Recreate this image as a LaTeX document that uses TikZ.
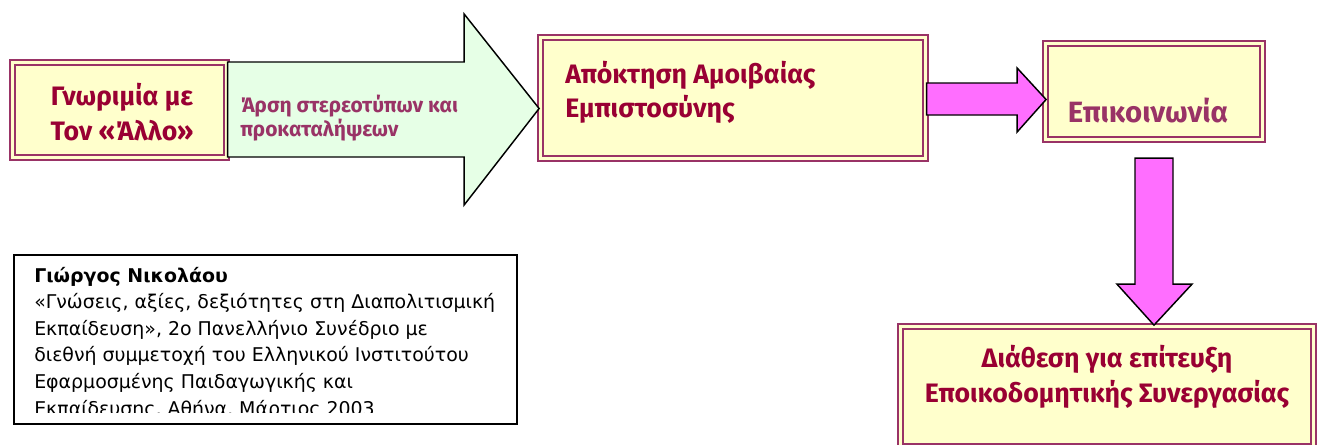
\documentclass[tikz,border=0pt]{standalone}
\usepackage{fontspec}
\setmainfont{Fira Sans}
\newfontfamily\citefont{DejaVu Sans}

\definecolor{frameC}{HTML}{993366}
\definecolor{paleY}{HTML}{FFFFCC}
\definecolor{wineC}{HTML}{990033}
\definecolor{plumC}{HTML}{993366}
\definecolor{mintC}{HTML}{E6FFE6}
\definecolor{pinkC}{HTML}{FF6EFF}

\begin{document}
\begin{tikzpicture}
  [x=0.75pt, y=-0.75pt,
   stageN/.style={draw=frameC, double=paleY, double distance=2pt, line width=1.6pt,
                  fill=paleY, inner sep=0pt},
   headT/.style={text=wineC, inner sep=0pt, align=center,
                 font=\bfseries\fontsize{20}{26.25}\selectfont},
   blockA/.style={draw=black, line width=1.1pt, line join=miter},
   citeT/.style={inner sep=0pt, align=left, font=\citefont\fontsize{14.2}{19.9}\selectfont}
  ]

  \useasboundingbox (0,0) rectangle (1322,444);
  \clip (0,0) rectangle (1322,444);

  % the four stages
  \node[stageN, minimum width=160.6pt, minimum height=71.3pt] (meet) at (119.5,110) {};
  \node[stageN, minimum width=288.8pt, minimum height=90.8pt] (trust) at (733,98) {};
  \node[stageN, minimum width=162.8pt, minimum height=72.1pt] (talk) at (1154,91.5) {};
  \node[stageN, minimum width=309.8pt, minimum height=90.1pt] (coop) at (1107,386.5) {};

  \node[headT, anchor=base] (meetT) at (122,140) {Γνωριμία με\\Τον «Άλλο»};
  \node[headT, anchor=base west, align=left, font=\bfseries\fontsize{20}{25.5}\selectfont]
    (trustT) at (565,117) {Απόκτηση Αμοιβαίας\\Εμπιστοσύνης};
  \node[headT, anchor=base, text=plumC, font=\bfseries\fontsize{22}{26}\selectfont]
    (talkT) at (1148,122) {Επικοινωνία};
  \node[headT, anchor=base] (coopT) at (1107,402) {Διάθεση για επίτευξη\\Εποικοδομητικής Συνεργασίας};

  % block arrows
  \draw[blockA, fill=mintC] (meet.east) ++(0,-48) -- ++(236.5,0) -- ++(0,-48) -- ++(75,94.5)
    -- ++(-75,96.5) -- ++(0,-48) -- ++(-236.5,0) -- cycle;
  \draw[blockA, fill=pinkC] (trust.east) ++(0,-15) -- ++(90.5,0) -- ++(0,-15) -- ++(29,31.5)
    -- ++(-29,32.5) -- ++(0,-17) -- ++(-90.5,0) -- cycle;
  \draw[blockA, fill=pinkC] (talk.south) ++(-19,17.5) -- ++(0,126) -- ++(-18,0) -- ++(37,41)
    -- ++(38,-41) -- ++(-19,0) -- ++(0,-126) -- cycle;

  \node[headT, anchor=base west, align=left, text=plumC, font=\bfseries\fontsize{15.7}{18}\selectfont]
    (clearT) at (240,136) {Άρση στερεοτύπων και\\προκαταλήψεων};

  % source note
  \node[draw, line width=1.5pt, minimum width=377.25pt, minimum height=126.75pt, inner sep=0pt]
    (refbox) at (265.5,339.5) {};
  \begin{scope}
    \clip (refbox.north west) rectangle ([yshift=9.75pt]refbox.south east);
    \node[citeT, anchor=base west] (cite) at (34,415)
      {\textbf{Γιώργος Νικολάου}\\
       «Γνώσεις, αξίες, δεξιότητες στη Διαπολιτισμική\\
       Εκπαίδευση», 2ο Πανελλήνιο Συνέδριο με\\
       διεθνή συμμετοχή του Ελληνικού Ινστιτούτου\\
       Εφαρμοσμένης Παιδαγωγικής και\\
       Εκπαίδευσης, Αθήνα, Μάρτιος 2003};
  \end{scope}

\end{tikzpicture}
\end{document}
